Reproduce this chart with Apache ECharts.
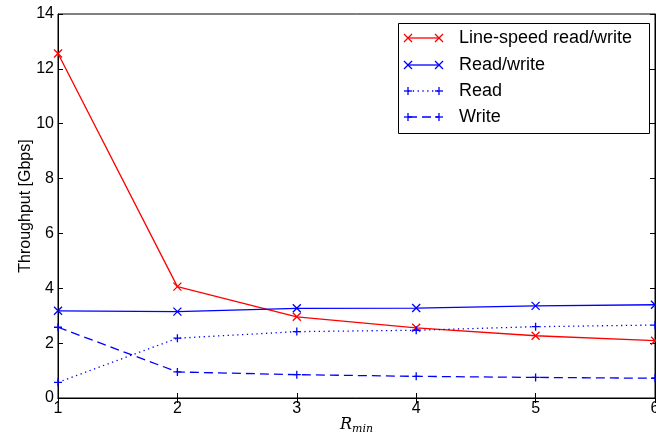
<!DOCTYPE html>
<html>
<head>
<meta charset="utf-8">
<script src="https://cdn.jsdelivr.net/npm/echarts@6/dist/echarts.min.js"></script>
<style>
html,body{margin:0;padding:0;background:#fff;}
#c{width:656px;height:441px;}
</style>
</head>
<body>
<div id="c"></div>
<script>
const rMin = [1, 2, 3, 4, 5, 6];
const lineSpeedRW = [12.56, 4.06, 2.96, 2.56, 2.27, 2.09];
const readWrite = [3.18, 3.15, 3.27, 3.28, 3.36, 3.40];
const readOnly = [0.57, 2.18, 2.42, 2.47, 2.60, 2.66];
const writeOnly = [2.58, 0.95, 0.85, 0.79, 0.75, 0.72];
const seriesNames = ['Line-speed read/write', 'Read/write', 'Read', 'Write'];
const yTicks = [0, 2, 4, 6, 8, 10, 12, 14];
const xTicks = [1, 2, 3, 4, 5, 6];

const RED = '#ff0000', BLUE = '#0000ff';
const XSYM = 'path://M0,0L10,10M10,0L0,10';
const PSYM = 'path://M5,0L5,10M0,5L10,5';
const FONT = '"Liberation Sans", Arial, sans-serif';

function pairs(vals) { return rMin.map((x, i) => [x, vals[i]]); }

function mkSeries(name, vals, color, sym, dash) {
  return {
    name: name, type: 'line', data: pairs(vals),
    xAxisIndex: 0, yAxisIndex: 0,
    symbol: sym, symbolSize: 8, showSymbol: true,
    clip: true, animation: false,
    lineStyle: { color: color, width: 1.3, type: dash },
    itemStyle: { color: color, borderColor: color, borderWidth: 1.3 },
    emphasis: { disabled: true }
  };
}

const styles = [
  { color: RED, sym: 'x', dash: 'solid' },
  { color: BLUE, sym: 'x', dash: 'solid' },
  { color: BLUE, sym: '+', dash: [1.3, 3.5] },
  { color: BLUE, sym: '+', dash: [9, 5] }
];

// Legend drawn as graphic elements
const legX = 398, legY = 23, legW = 251, legH = 110;
const rowY = [38, 65, 91, 117];
const lx0 = 408, lx1 = 439, tx = 459, ms = 4;
const legendEls = [{
  type: 'rect', shape: { x: legX + 0.5, y: legY + 0.5, width: legW, height: legH },
  style: { fill: '#fff', stroke: '#000', lineWidth: 1 }, z: 100
}];
function marker(cx, cy, sym, color) {
  if (sym === 'x') {
    return [
      { type: 'line', shape: { x1: cx - ms, y1: cy - ms, x2: cx + ms, y2: cy + ms }, style: { stroke: color, lineWidth: 1.3 }, z: 102 },
      { type: 'line', shape: { x1: cx - ms, y1: cy + ms, x2: cx + ms, y2: cy - ms }, style: { stroke: color, lineWidth: 1.3 }, z: 102 }
    ];
  }
  return [
    { type: 'line', shape: { x1: cx - ms, y1: cy, x2: cx + ms, y2: cy }, style: { stroke: color, lineWidth: 1.3 }, z: 102 },
    { type: 'line', shape: { x1: cx, y1: cy - ms, x2: cx, y2: cy + ms }, style: { stroke: color, lineWidth: 1.3 }, z: 102 }
  ];
}
seriesNames.forEach((n, i) => {
  const st = styles[i];
  const y = rowY[i];
  legendEls.push({
    type: 'line', shape: { x1: lx0, y1: y, x2: lx1, y2: y },
    style: { stroke: st.color, lineWidth: 1.3, lineDash: st.dash === 'solid' ? null : st.dash }, z: 101
  });
  legendEls.push(...marker(lx0, y, st.sym, st.color));
  legendEls.push(...marker(lx1, y, st.sym, st.color));
  legendEls.push({
    type: 'text', x: tx, y: y,
    style: { text: n, fontSize: 18, fontFamily: FONT, fill: '#000', verticalAlign: 'middle', align: 'left' }, z: 102
  });
});

const chart = echarts.init(document.getElementById('c'), null, { renderer: 'canvas' });
const axisCommon = {
  type: 'value', min: 1, max: 6, interval: 1,
  axisLine: { show: true, lineStyle: { color: '#000', width: 1 } },
  axisTick: { show: true, inside: true, length: 5, lineStyle: { color: '#000' } },
  splitLine: { show: false }
};
chart.setOption({
  animation: false,
  backgroundColor: '#fff',
  grid: { left: 58, right: 1, top: 14, bottom: 43, show: true, borderColor: '#000', borderWidth: 1,
          containLabel: false, outerBoundsMode: 'none' },
  xAxis: [
    Object.assign({}, axisCommon, {
      position: 'bottom',
      axisLabel: { color: '#000', fontSize: 16, fontFamily: FONT, margin: 3, formatter: v => xTicks.includes(v) ? String(v) : '' },
      name: '{r|R}{s|min}', nameLocation: 'middle', nameGap: 16, nameMoveOverlap: false,
      nameTextStyle: {
        rich: {
          r: { fontFamily: '"DejaVu Serif", "Liberation Serif", serif', fontStyle: 'italic', fontSize: 16, color: '#000' },
          s: { fontFamily: '"DejaVu Serif", "Liberation Serif", serif', fontStyle: 'italic', fontSize: 11, color: '#000', padding: [10, 0, 0, 0] }
        }
      }
    }),
    Object.assign({}, axisCommon, { position: 'top', axisLabel: { show: false } })
  ],
  yAxis: [
    Object.assign({}, axisCommon, {
      min: 0, max: 14, interval: 2, position: 'left',
      axisLabel: { color: '#000', fontSize: 16, fontFamily: FONT, margin: 4, formatter: v => yTicks.includes(v) ? String(v) : '' },
      name: 'Throughput [Gbps]', nameLocation: 'middle', nameGap: 24, nameMoveOverlap: false,
      nameTextStyle: { color: '#000', fontSize: 16, fontFamily: FONT }
    }),
    Object.assign({}, axisCommon, { min: 0, max: 14, interval: 2, position: 'right', axisLabel: { show: false } })
  ],
  series: [
    mkSeries(seriesNames[0], lineSpeedRW, RED, XSYM, 'solid'),
    mkSeries(seriesNames[1], readWrite, BLUE, XSYM, 'solid'),
    mkSeries(seriesNames[2], readOnly, BLUE, PSYM, styles[2].dash),
    mkSeries(seriesNames[3], writeOnly, BLUE, PSYM, styles[3].dash)
  ],
  graphic: legendEls
});
</script>
</body>
</html>
